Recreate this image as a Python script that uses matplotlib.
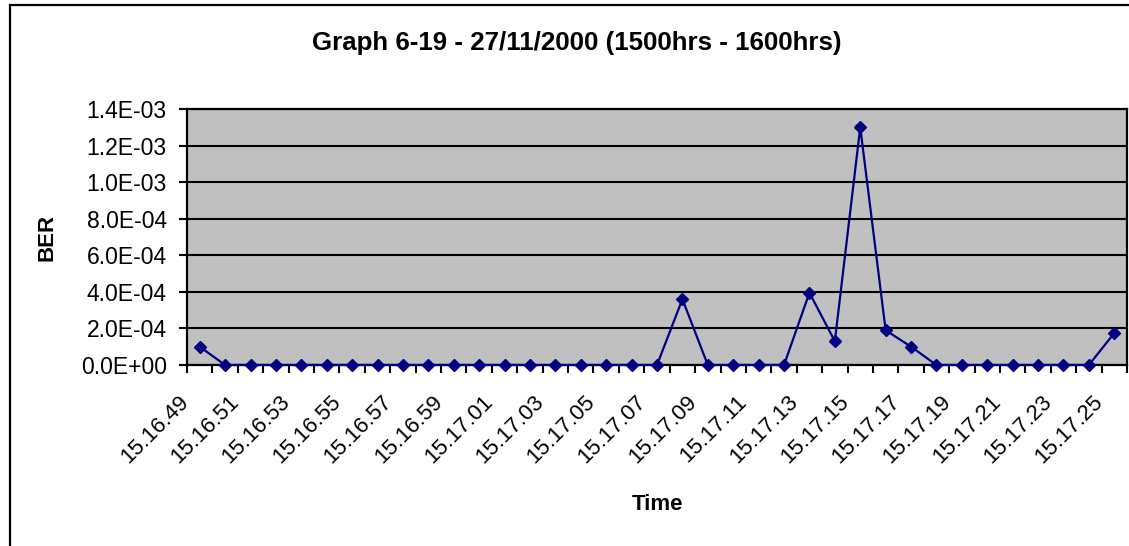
import numpy as np
import matplotlib.pyplot as plt
from matplotlib.patches import Rectangle
from matplotlib.ticker import FuncFormatter, FixedLocator
from matplotlib.transforms import ScaledTranslation

plt.rcParams['font.family'] = ['Liberation Sans', 'DejaVu Sans']

# sample times, one per second
times = ['15.16.49', '15.16.50', '15.16.51', '15.16.52', '15.16.53', '15.16.54',
         '15.16.55', '15.16.56', '15.16.57', '15.16.58', '15.16.59', '15.17.00',
         '15.17.01', '15.17.02', '15.17.03', '15.17.04', '15.17.05', '15.17.06',
         '15.17.07', '15.17.08', '15.17.09', '15.17.10', '15.17.11', '15.17.12',
         '15.17.13', '15.17.14', '15.17.15', '15.17.16', '15.17.17', '15.17.18',
         '15.17.19', '15.17.20', '15.17.21', '15.17.22', '15.17.23', '15.17.24',
         '15.17.25']
ber = [1.0e-4, 0, 0, 0, 0, 0,
       0, 0, 0, 0, 0, 0,
       0, 0, 0, 0, 0, 0,
       0, 3.6e-4, 0, 0, 0, 0,
       3.95e-4, 1.3e-4, 1.3e-3, 1.9e-4, 1.0e-4, 0,
       0, 0, 0, 0, 0, 0,
       1.75e-4]
yticks = [0, 2e-4, 4e-4, 6e-4, 8e-4, 1.0e-3, 1.2e-3, 1.4e-3]

W, H = 1129, 546
fig = plt.figure(figsize=(W / 100, H / 100), dpi=100)
fig.patches.append(Rectangle((10 / W, -0.1), 1.2, (H - 5) / H + 0.1,
                             transform=fig.transFigure, fill=False,
                             edgecolor='black', linewidth=1.6))

ax = fig.add_axes([187 / W, (H - 365) / H, (1127 - 187) / W, (365 - 109) / H])
ax.set_facecolor('#c0c0c0')

x = np.arange(len(times))
ax.plot(x, ber, color='#000080', linewidth=1.6, marker='D', markersize=6.5,
        clip_on=False, zorder=3)

ax.set_xlim(-0.5, len(times) - 0.5)
ax.set_ylim(0, 1.4e-3)

# y axis
ax.set_yticks(yticks)
ax.yaxis.set_major_formatter(FuncFormatter(lambda v, p: f'{v:.1E}'))
ax.tick_params(axis='y', direction='out', length=6, width=1.5, labelsize=16.5, pad=8.5)
ax.grid(axis='y', color='black', linewidth=1.5)
ax.set_axisbelow(True)

# x axis: ticks between categories, labels on every second category
ax.xaxis.set_major_locator(FixedLocator(np.arange(len(times) + 1) - 0.5))
ax.xaxis.set_major_formatter(FuncFormatter(lambda v, p: ''))
ax.xaxis.set_minor_locator(FixedLocator(x[::2]))
ax.set_xticklabels([times[i] for i in x[::2]], minor=True)
ax.tick_params(axis='x', which='major', direction='out', length=6, width=1.5)
ax.tick_params(axis='x', which='minor', length=0, labelsize=16, pad=19)
shift = ScaledTranslation(-7 / 100, 0, fig.dpi_scale_trans)
for lbl in ax.get_xticklabels(minor=True):
    lbl.set_rotation(45)
    lbl.set_ha('right')
    lbl.set_va('top')
    lbl.set_transform(lbl.get_transform() + shift)

for s in ax.spines.values():
    s.set_linewidth(1.6)

ax.set_xlabel('Time', fontsize=16, fontweight='bold', va='center')
ax.xaxis.set_label_coords(0.5, (365 - 505) / 256)
ax.set_ylabel('BER', fontsize=16, fontweight='bold', va='center')
ax.yaxis.set_label_coords((47 - 187) / 940, 0.5)
fig.text(577 / W, 1 - 50 / H, 'Graph 6-19 - 27/11/2000 (1500hrs - 1600hrs)',
         ha='center', va='baseline', fontsize=18.6, fontweight='bold')

fig.savefig('out.png', dpi=100)
